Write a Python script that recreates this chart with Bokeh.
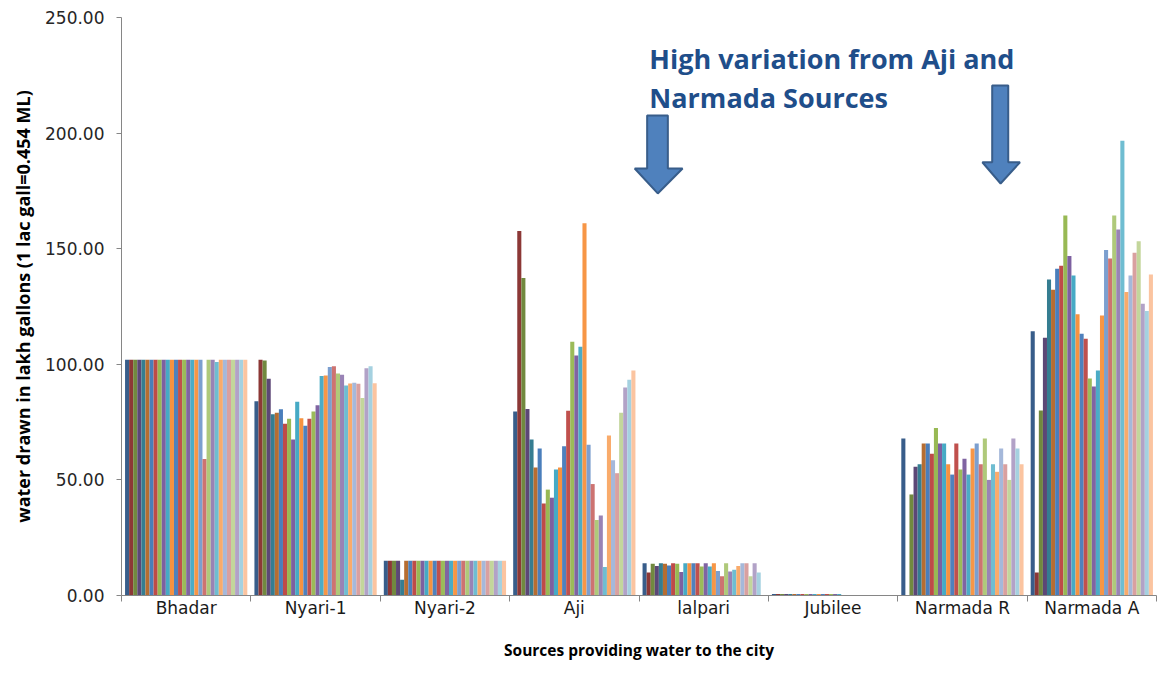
from bokeh.plotting import figure
from bokeh.models import ColumnDataSource, FixedTicker, Range1d, Label, NumeralTickFormatter
from bokeh.transform import dodge
from bokeh.embed import file_html
from bokeh.resources import INLINE

categories = ["Bhadar", "Nyari-1", "Nyari-2", "Aji", "lalpari", "Jubilee", "Narmada R", "Narmada A"]

# daily water drawn (lakh gallons), 30 days per source
bhadar = [102, 102, 102, 102, 102, 102, 102, 102, 102, 102, 102, 102, 102, 102, 102,
          102, 102, 102, 102, 59, 102, 102, 101, 102, 102, 102, 102, 102, 102, 102]
nyari1 = [84.0, 102.0, 101.6, 93.7, 78.4, 79.0, 80.6, 74.3, 76.4, 67.5, 83.8, 76.7, 73.4, 76.4, 79.6,
          82.3, 94.9, 95.2, 98.8, 99.2, 96.0, 95.5, 90.8, 91.7, 92.0, 91.6, 85.4, 98.3, 99.2, 91.8]
nyari2 = [15, 15, 15, 15, 6.8, 15, 15, 15, 15, 15, 15, 15, 15, 15, 15,
          15, 15, 15, 15, 15, 15, 15, 15, 15, 15, 15, 15, 15, 15, 15]
aji = [79.6, 157.7, 137.3, 80.7, 67.5, 55.4, 63.6, 39.8, 45.8, 42.3, 54.5, 55.4, 64.6, 79.9, 109.7,
       103.8, 107.6, 161.0, 65.2, 48.2, 32.7, 34.6, 12.3, 69.2, 58.5, 52.9, 79.0, 90.0, 93.3, 97.3]
lalpari = [14.0, 9.9, 13.7, 12.8, 14.0, 13.7, 13.0, 14.0, 13.7, 10.2, 14.0, 14.0, 14.0, 14.0, 12.5,
           14.0, 12.5, 14.0, 10.6, 8.3, 14.0, 10.4, 11.1, 12.8, 14.0, 14.0, 8.3, 14.0, 9.9, 0]
jubilee = [0.7, 0.7, 0.7, 0.7, 0.7, 0.7, 0.7, 0.7, 0.7, 0.7, 0.7, 0.7, 0.7, 0.7, 0.7,
           0.7, 0.7, 0, 0, 0, 0, 0, 0, 0, 0, 0, 0, 0, 0, 0]
narmada_r = [67.9, 0, 43.7, 55.7, 56.8, 65.7, 65.7, 61.3, 72.5, 65.7, 65.7, 56.8, 52.3, 65.7, 54.5,
             59.1, 52.3, 63.6, 65.7, 56.8, 67.9, 50.0, 56.8, 53.5, 63.6, 56.8, 50.0, 67.9, 63.6, 56.8]
narmada_a = [114.3, 9.9, 80.0, 111.5, 136.7, 132.2, 141.3, 142.6, 164.4, 146.8, 138.4, 121.7, 113.2, 111.0, 93.9,
             90.4, 97.3, 121.1, 149.4, 145.8, 164.4, 158.3, 196.7, 131.3, 138.4, 148.2, 153.2, 126.2, 123.0, 138.8]

y_ticks = [0, 50, 100, 150, 200, 250]

colors = ["#385D8A", "#8C3836", "#71893F", "#5C4776", "#357D91", "#B66D31",
          "#4A7EBB", "#BE4B48", "#98B954", "#7D60A0", "#46AAC5", "#F69240",
          "#4F81BD", "#C0504D", "#9BBB59", "#8064A2", "#4BACC6", "#F79646",
          "#7C9FCF", "#CD7371", "#AFC97A", "#9983B5", "#6FBDD1", "#F9AB6B",
          "#A5B8DA", "#D9A0A0", "#C3D69B", "#B2A2C7", "#A5D1E0", "#FBC4A0"]

series = [bhadar, nyari1, nyari2, aji, lalpari, jubilee, narmada_r, narmada_a]
n_days = len(bhadar)

data = {"xc": [i + 0.5 for i in range(len(categories))]}
for d in range(n_days):
    data[f"d{d + 1}"] = [s[d] for s in series]
src = ColumnDataSource(data)

p = figure(width=1158, height=663, x_range=Range1d(0, len(categories)), y_range=Range1d(0, 250),
           output_backend="svg", toolbar_location=None,
           min_border_left=121, min_border_right=2, min_border_top=17, min_border_bottom=68)
p.outline_line_color = None
p.grid.visible = False
p.background_fill_color = "white"

w = 0.0315
for d in range(n_days):
    p.vbar(x=dodge("xc", (d - (n_days - 1) / 2) * w), top=f"d{d + 1}", width=w, source=src,
           fill_color=colors[d], line_color=None)

# arrows (annotation shapes)
arrow1_x = [4.063, 4.223, 4.223, 4.337, 4.145, 3.967, 4.063]
arrow1_y = [207.6, 207.6, 184.7, 184.7, 173.9, 184.7, 184.7]
arrow2_x = [6.730, 6.854, 6.854, 6.945, 6.795, 6.654, 6.730]
arrow2_y = [220.6, 220.6, 187.4, 187.4, 178.2, 187.4, 187.4]
for ax_, ay_ in [(arrow1_x, arrow1_y), (arrow2_x, arrow2_y)]:
    p.patch(ax_, ay_, fill_color="#4F81BD", line_color="#385D8A", line_width=2)

for txt, ty in [("High variation from Aji and", 232.3), ("Narmada Sources", 215.4)]:
    p.add_layout(Label(x=4.08, y=ty, text=txt, text_baseline="middle", text_align="left",
                       text_font="Open Sans", text_font_style="bold", text_font_size="27px",
                       text_color="#1F4E8A"))

axis_color = "#868686"

xa = p.xaxis[0]
xa.ticker = FixedTicker(ticks=[i + 0.5 for i in range(len(categories))],
                        minor_ticks=list(range(len(categories) + 1)))
xa.major_label_overrides = {i + 0.5: c for i, c in enumerate(categories)}
xa.axis_line_color = axis_color
xa.major_tick_line_color = None
xa.major_tick_out = 0
xa.major_tick_in = 0
xa.minor_tick_line_color = axis_color
xa.minor_tick_out = 6
xa.minor_tick_in = 0
xa.major_label_standoff = -4
xa.major_label_text_font = "DejaVu Sans"
xa.major_label_text_font_size = "17px"
xa.major_label_text_color = "#1a1a1a"
xa.axis_label = "Sources providing water to the city"
xa.axis_label_text_font = "Open Sans"
xa.axis_label_text_font_style = "bold"
xa.axis_label_text_font_size = "15.5px"
xa.axis_label_text_color = "black"
xa.axis_label_standoff = 18

ya = p.yaxis[0]
ya.ticker = FixedTicker(ticks=y_ticks)
ya.formatter = NumeralTickFormatter(format="0.00")
ya.axis_line_color = axis_color
ya.major_tick_line_color = axis_color
ya.major_tick_out = 5
ya.major_tick_in = 0
ya.minor_tick_line_color = None
ya.major_label_standoff = 12
ya.major_label_text_font = "DejaVu Sans"
ya.major_label_text_font_size = "17px"
ya.major_label_text_color = "#262626"
ya.axis_label = "water drawn in lakh gallons (1 lac gall=0.454 ML)"
ya.axis_label_text_font = "Open Sans"
ya.axis_label_text_font_style = "bold"
ya.axis_label_text_font_size = "18px"
ya.axis_label_text_color = "black"
ya.axis_label_standoff = 7

open("out.html", "w").write(file_html(p, INLINE))
